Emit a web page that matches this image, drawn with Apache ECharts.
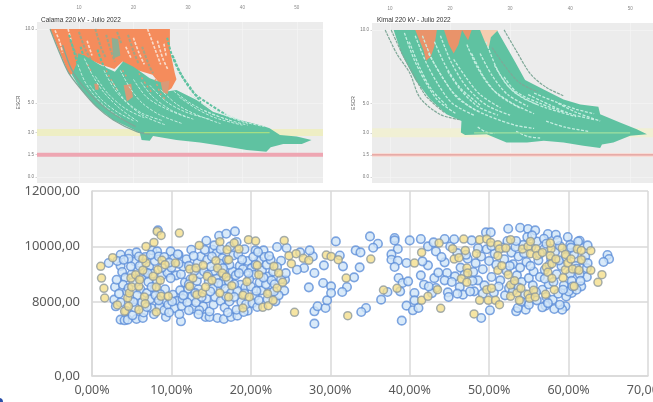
<!DOCTYPE html>
<html><head><meta charset="utf-8">
<script src="https://cdn.jsdelivr.net/npm/echarts@6/dist/echarts.min.js"></script>
<style>html,body{margin:0;padding:0;background:#fff;overflow:hidden}#main{width:653px;height:402px;filter:blur(0.7px)}</style>
</head><body><div id="main"></div>
<script>
const titleCalama = 'Calama 220 kV - Julio 2022';
const titleKimal = 'Kimal 220 kV - Julio 2022';
const escrTicks = [0, 1.5, 3, 5, 10];
const topXTicks = [10, 20, 30, 40, 50];
const bottomYTicks = [5333, 8000, 10000, 12000];

// Calama: filled regions of the point cloud (x, ESCR)
const calamaOrangeArea = [[4.7,10],[26.7,10],[26.7,8.6],[27.6,7],[27.9,6.6],[27,6],[26.1,5.75],[25.3,6.1],[23.5,6.9],[20,7.3],[18,7.8],[16.5,7.3],[14,7.6],[11.5,8],[9.9,7],[8.2,6.9],[6.3,8.6]];
const calamaGreenArea = [[8.7,6.9],[10.2,6],[13.2,4.75],[16.3,3.85],[20,3.2],[21.2,2.95],[21.5,2.5],[23,2.45],[23.6,2.77],[27.9,2.5],[32.2,2.32],[37,2.05],[40.8,1.82],[44.4,1.71],[45.2,2],[47.5,2.23],[50.9,2.23],[52.7,2.5],[50,2.73],[46.9,2.84],[45,3.29],[43.8,3.45],[38.3,3.96],[34.6,4.41],[31.6,5.2],[27.9,5.88],[26.1,5.77],[25.5,6.33],[23,6.67],[20,7.45],[18.1,7.8],[16.6,7.1],[13.9,7.57],[11.4,8.13],[9.9,8.36],[9.6,7.68]];
const calamaOrangePatches = [
  [[18.2,6.2],[19.6,6.3],[19.9,5.4],[18.8,5.1]],
  [[25,6.4],[26.6,6.5],[26.3,5.6],[25.4,5.7]],
  [[12.8,6.3],[13.6,6.3],[13.6,5.9],[13,5.9]]
];
const calamaDullPatch = [[16,9.4],[17.2,9.3],[17.6,8.2],[16.3,8]];
const calamaGreenCurves = [
  [[8.2,9.6],[9,8.6],[10,7.4],[11,6.8]],
  [[10.3,8.8],[11.2,7.8],[12.6,6.8],[13.6,6.2]],
  [[13.4,8.6],[14.4,7.6],[16,6.6],[17.6,5.8]],
  [[26.2,9.4],[27,8.3],[28.6,7],[30.7,5.9],[32.4,5]],
  [[27.2,8.2],[28.8,6.9],[31,5.7],[34,4.9],[37,4.2]]
];
const calamaEdgeCurves = [
  [[4.7,10],[6.2,8.6],[8,7.1],[10.2,6],[13.2,4.75],[16.3,3.85],[20.6,3.06],[23,2.9]],
  [[7,8.9],[8.6,7.3],[10.6,6.2],[13.4,5.1],[16.6,4.2],[20.4,3.4]]
];
const calamaPaleStreaks = [
  [[12,6.2],[14.2,5.2],[17,4.4],[20,3.8]],
  [[13,6.8],[15.4,5.6],[18.6,4.6],[22,4]],
  [[16,6.5],[18.4,5.2],[21.6,4.3],[25.4,3.8]],
  [[20,6.6],[22.4,5.4],[26,4.6],[30,4]],
  [[23,6.2],[26,5.1],[29.5,4.4],[34,3.9]],
  [[27.4,5.8],[30.4,5],[34,4.3],[38,3.8]],
  [[30.4,5.6],[33,4.9],[36.6,4.2],[41,3.6]],
  [[9.8,7.6],[11,6.5],[12.6,5.6],[15,4.7],[18,3.9]],
  [[11,8],[12.6,6.8],[14.6,5.7],[17.6,4.6],[21,3.7]],
  [[14.6,7.2],[16.4,6],[18.8,5],[22,4.1],[26,3.5]],
  [[17.6,7.2],[19.4,6],[21.6,5],[24.8,4.2],[29,3.6]],
  [[21.4,6.4],[23.6,5.4],[27,4.5],[31,3.9]],
  [[25,5.9],[28,4.9],[31.6,4.2],[36,3.6]],
  [[28.4,5.4],[31.6,4.6],[35,4],[40,3.5]],
  [[33,4.5],[37,3.9],[41,3.5]],
  [[36.6,4.3],[40.6,3.7],[44,3.4]]
];
const calamaPaleOrangeStreaks = [
  [[5.6,9.9],[6.4,9.2],[7,8.4]],
  [[8,10],[8.6,9.2]],
  [[22.6,10],[24,8.6],[25,7.6]],
  [[24.4,9.2],[25.4,8],[26.4,7.2]],
  [[20,9.4],[21,8.4],[22,7.6]],
  [[25.6,9],[26,8.2]],
  [[11.5,9.2],[12.4,8.2]],
  [[18.6,8.8],[19.6,8]]
];
const calamaMuddyStreaks = [
  [[10,9.8],[11.2,8.6],[12.6,7.7]],
  [[13,10],[14,8.8],[15,8]],
  [[19,9.6],[20,8.5],[21,7.6]],
  [[17,9.8],[17.8,9]],
  [[8.4,9.2],[9.6,8.2],[10.6,7.5]],
  [[15,9.6],[15.8,8.6],[16.6,7.8]],
  [[21.6,8.8],[22.8,7.6],[23.6,7]]
];
const calamaOrangeSpeckle = [
  [[15,7.2],[16,6.5],[17,5.9]],
  [[21,7],[22.4,6.2],[23.6,5.6]],
  [[18,7.2],[19,6.6]],
  [[11.6,7.6],[12.4,7]],
  [[24,6.6],[25,5.6],[26,5.2]]
];

// Kimal: filled regions of the point cloud (x, ESCR)
const kimalGreenArea = [[10.6,10],[27.8,10],[30.8,7.85],[32.5,6.6],[35.6,5.94],[38.9,5.27],[41.7,4.93],[44.7,4.78],[45,4.26],[48.3,3.7],[51.1,3.25],[52.8,2.91],[50,2.8],[47.2,2.35],[45.3,2.2],[45,1.97],[42.2,2.13],[38.9,2.35],[35.6,2.47],[32.8,2.35],[29.4,2.35],[26.1,2.9],[22.5,2.85],[21.8,3.03],[21.9,3.8],[19.4,4.26],[16.7,5.27],[14.2,6.6],[11.9,8.4]];
const kimalOrangePatches = [
  [[14.2,10],[17.8,10],[17.4,8.9],[16.8,8.2],[16,7.9],[15.6,8.6]],
  [[19,10],[22,10],[21.4,9],[20.6,8.4],[19.8,9]],
  [[22,10],[23.6,10],[23,9.3]]
];
const kimalPaleOrangePatches = [
  [[25,10],[28,10],[26.8,9.5],[26.4,8.7],[25.8,9.2]]
];
const kimalEdgeCurves = [
  [[9.2,10],[11.1,8.4],[13.3,7.06],[15,5.38],[18.3,4.26],[21.7,3.88]],
  [[10.2,10],[12,8.4],[14,6.9],[16,5.5],[19,4.4]],
  [[29,10],[31,8.6],[33.4,7],[36,6.1],[39,5.5]],
  [[27,8.8],[29.4,7.4],[31.6,6.4],[34.6,5.8]]
];
const kimalPaleStreaks = [
  [[12.4,9.8],[14,8],[16,6.4],[18,5.2],[21,4.3]],
  [[14.2,9.6],[16,7.8],[18,6.3],[20.4,5],[24,4.2]],
  [[16.4,8.4],[18.4,7],[20.6,5.7],[24,4.6],[28,3.9]],
  [[18.4,9.6],[20.2,7.8],[22.6,6.2],[26,4.9],[30,4.2]],
  [[20.6,8],[22.6,6.8],[25,5.6],[28.4,4.7]],
  [[22.8,9],[24.6,7.4],[27,6],[30.4,5],[34,4.3]],
  [[25,8.4],[27,6.9],[29.6,5.6],[33,4.8]],
  [[27.4,7.6],[29.4,6.3],[32,5.4],[36,4.7],[41,4.1]],
  [[34,5.7],[37.6,5.1],[41,4.6],[44,4.3]],
  [[24.6,3.4],[26,3.05],[27.4,2.95]],
  [[31,3.1],[33,2.75],[35,2.65]],
  [[28,3.9],[31,3.5],[34,3.3]],
  [[13.2,9.2],[15,7.4],[17,5.9],[19.6,4.8]],
  [[15.4,9.6],[17,8],[19,6.6],[21.4,5.3],[25,4.4]],
  [[17.4,9.2],[19.2,7.6],[21.6,6.1],[25,4.9]],
  [[19.6,7.2],[21.6,6],[24.6,4.8],[28,4.2]],
  [[23.6,8.4],[25.6,6.8],[28,5.6],[31.6,4.7]],
  [[26,9.2],[28,7.2],[30.6,5.8],[34.6,4.9]],
  [[29,6.8],[31,5.8],[35,5],[39,4.4]],
  [[33,5.6],[36.6,4.9],[40,4.3],[44,3.9]],
  [[38,5],[41,4.4],[45,3.8]],
  [[36,3.8],[39,3.4],[43,3.1]]
];

// Lower panel: share (%) and value
const bluePointsX = [3.6,4.1,4.5,5.6,6.4,9.3,11.2,14.3,14.8,15.8,16.6,17.5,18.3,19.6,28,28,28.4,29.4,29.6,27.3,29.1,28,29.2,26.7,25.8,27.8,27.4,26.2,23.3,24.5,23.8,24.3,24.2,23.1,2.8,3,2.9,2.1,3.6,4.7,5.6,7.6,8.2,8.3,9.9,10.9,12.5,14.4,15.2,16,16.9,18,20.6,21.6,
3.6,3.8,4.2,3.9,4.4,4.8,3.6,4.3,5.1,5.4,4.6,5.7,5.2,6.1,5.7,6.3,5.4,6.5,6.7,6.2,7.1,6.9,7.3,7.5,7.2,7.6,7.9,7.4,8.4,8.8,8.2,8.9,8.5,9.1,9.6,9.2,9.5,9.1,10.3,10,10.6,10.2,10.7,10.4,11,11.3,11.4,11.1,11.7,11.2,11.5,11.9,12.2,12.4,12.1,12.6,12,12.7,13.1,13.4,13.2,13.6,13.3,13.7,14.2,14.5,14.1,14.7,14.4,14,14.8,15.3,15.5,15.2,15.6,15.3,15.7,15.4,16.2,16.4,16.1,16.6,16.3,16.8,16.2,16.7,17.1,17.3,17.5,17.2,17.7,17.3,17.8,17.4,18.2,18.4,18.6,18.1,18.7,18.3,18.8,18.2,19.1,19.4,19.3,19,19.6,19.2,20.1,20.4,20,20.5,20.2,20.8,21,21.3,21.1,21.4,21,21.7,22,22.2,21.9,22.4,22.1,22.6,22.8,22.5,23,23.5,23.8,24.4,5,4.6,6.6,7.9,8.6,9.9,10.9,12.8,13,14.9,15.9,17.9,18.9,19.8,20.3,20.9,
3.2,4,4.9,5.9,6,7,7.5,8,8.4,8.8,9.7,10.1,10.8,11.5,12.2,12.9,13.5,13.8,14.6,15,15.1,16.5,16.9,17,17.9,18.5,19.2,19.7,20.6,20.7,21.6,22.3,22.9,23.3,5.2,6.9,7.8,9.7,12.2,13.4,3.4,3.1,
30.7,35,36,35.4,33.2,33.8,31.2,31.6,33.7,33,32.1,31.5,30.1,30.1,36.4,37.2,34.5,33.9,39,39.6,40.4,41.1,38.1,38.1,38.5,37.7,37.7,38.5,39.6,38.1,38.6,39.1,39.8,38.8,40.6,40.6,41.8,41.4,42.3,41.6,40,41.4,42.3,43,43.3,44.4,44.4,44.7,44.4,43.3,44.8,44.9,45.7,46.3,46.7,48.1,49,50.1,49.6,50.2,52.4,53.9,54.9,55.8,57.4,58.4,59.9,61.4,62.4,64.9,65.1,64.4,62.3,61.6,60.4,59.6,59.2,58.2,57.1,56.7,54.6,53.4,53.6,
42.8,43.1,45.1,45.6,46,46.4,46.9,47.3,47.8,47.6,48,48.3,48.6,49,49.2,49.4,49.7,50,50.3,50.7,50.9,50.6,51.4,51.7,51.9,52.2,52,52.5,52.8,53,53.3,53.5,53.7,53.9,54.1,54.3,54.5,54.7,55,55.3,55.6,55.5,56,56.2,56.4,56.7,56.9,57,57.2,57.5,57.8,58,58.3,58.5,58.7,58.9,59.1,59.4,59.7,59.9,60.2,60.4,60.7,60.9,61.2,61.4,61.8,62.1,62.3,61,60,58.9,57.4,56,55,54,53,52.3,53.4,54.8,56.9,58.6,60.2,
42.4,43.6,44,45.3,46,47.1,47.9,48.6,49.2,50.3,51.2,52.6,53.1,53.7,54.4,55.2,55.9,56.4,57,57.6,58.1,58.8,59.3,59.7,60.5,61,61.5,62.4,60.3,57.2,55.4];
const bluePointsY = [7364,7340,7364,7388,7424,7460,7304,7460,7460,7424,7388,7460,7508,7688,7220,7664,7844,7784,8060,8528,8684,9044,9320,9224,9164,9644,9860,9788,9980,9944,9488,8804,8408,8024,8084,7844,8540,9404,9704,9740,9788,9860,9824,10580,9824,9704,9884,10208,9884,10388,10460,10544,9860,9860,
9300,9080,8880,8620,8380,8120,7980,7680,7520,9460,9560,9120,8720,8460,8240,7980,7800,7620,9620,8900,8720,8320,8100,7780,9280,9020,9480,9700,9640,8960,8740,8020,7860,7700,7900,8460,9060,9620,9560,9240,8960,8260,8040,7780,7560,7860,8120,8420,8700,9000,9280,9540,9300,8820,8480,8200,7980,7760,7980,8460,8760,9000,9420,9640,9880,9520,9100,8740,8120,7840,7660,7900,8180,8480,8840,9120,9760,10040,9900,9580,9380,9000,8640,8480,8040,7800,7620,8020,8320,8760,9100,9340,9680,10000,10160,9720,9300,8960,8620,8400,8000,7720,7640,7920,8520,9180,9480,9900,9220,8980,8560,8200,7960,7820,8060,8420,8700,9140,9480,9620,9340,8920,8640,8340,8100,8780,9100,9520,8640,8240,8820,9040,9000,8500,9100,8500,8280,8860,9380,9660,8320,8380,8680,8640,9520,8820,9620,9800,
9480,9520,9280,9640,9300,9040,8540,8240,8060,9240,9420,8020,9720,8240,8640,9120,7700,8180,8980,9280,9640,9220,8200,9520,8180,9040,8300,9040,9340,8400,8880,9660,8380,9260,8000,7820,7560,7620,7700,7560,8300,8800,
10184,10364,10100,9956,9860,9788,9676,9284,9248,8888,8540,8360,8564,8324,8084,8360,7784,7640,7328,7868,7700,7784,10304,10220,9908,9716,9524,9488,9404,9260,8864,8684,8744,8384,8324,8060,8624,8960,9320,9464,10220,10268,10004,10148,9824,10268,9428,9044,8780,8504,8348,8180,8924,8540,8264,8384,7424,7700,10508,10508,10640,10676,10628,10580,10448,10424,10340,10208,10040,9692,9548,9440,8900,8564,8324,7844,7724,7748,7868,7808,7724,7664,7784,
8320,8860,10000,10260,9760,9240,8980,9560,10220,8380,9080,9400,8780,9640,9180,8600,9900,9480,8900,9740,9340,8340,8780,9960,9540,9120,8240,8500,9780,9360,9980,8960,9640,9240,8720,10060,8280,9440,8860,9980,9100,8600,10180,9500,8900,8440,9900,9160,8180,8640,9560,8080,9800,9000,8300,10020,9300,8600,8200,9860,9020,8760,9720,9300,10180,9000,9500,9640,9220,8440,8380,7900,7960,8060,7900,8020,8400,10200,10200,10340,10280,10220,10060,
8560,9060,9620,8720,8300,9700,8760,9940,8300,10020,8560,9300,8640,8520,9760,9300,8360,9740,8840,9340,8720,9500,8440,9620,8560,9200,8760,9400,9960,10100,10400];
const yellowPointsX = [1.1,1.2,1.5,1.6,2.6,3.2,4.1,4.5,4.7,4.9,5,5.5,5.9,6,4.6,5.9,6.6,6.7,6.8,6.4,6.4,6.8,7.8,7.7,8.1,8.3,8.6,8.8,8.7,9.2,9.6,8.1,8.2,8.7,10.5,11,12.3,12.3,13.1,12.7,13.2,13.5,14,13.9,14.3,14.5,15.1,15.6,15.8,16.1,16.1,16.4,16.9,17.6,17.2,17.2,17,17.9,18.5,19,19.8,19.5,19,19.7,20.6,20.8,21,22.1,21.5,22.2,22.8,22.9,23.5,23.3,24,24.2,24.8,25.1,25.7,26.6,27.3,25.5,29.5,
30.1,31,32,32.2,35.1,36.7,38.4,40.6,41.5,41.5,42.3,43.5,43.9,43.7,45.4,45.6,46.2,46.8,47,47.2,47.3,46.5,47.2,48.1,48.4,48.8,48.8,49.7,49.7,49.9,50.3,50.8,51.3,50.2,51.1,51.3,51.1,51.1,51.6,52.1,52.7,52.4,52.7,52.7,53.2,53.5,53.8,54,54.2,54.9,55.2,55.2,55.9,56,56.7,54.9,55.1,55.6,55.8,57.1,57.2,57.4,57.8,57.7,57.7,57.9,57.9,58.2,58.4,59.2,59.3,59.6,59.6,59.9,60.3,60.5,60.7,61.3,61.1,61.6,61.6,62.8,62.8,63.7,64.2];
const yellowPointsY = [9284,8864,8492,8144,9596,7892,7664,8144,8324,8864,8540,8984,8564,8804,7844,7724,8180,7940,9404,9560,9140,10004,10148,8924,8540,9164,8780,9500,8204,9344,8204,7640,10544,10400,9404,10484,8564,9188,9224,8864,8264,10040,9320,8324,8540,8924,8780,9488,9224,10172,8324,9044,8900,8588,8180,9524,9884,10124,9908,8240,8180,8732,7784,10244,10196,9320,8984,8300,7808,7868,8060,9284,9044,8504,8708,10220,9668,9380,9740,9572,9500,7628,9692,
9644,9524,8864,7508,9548,8432,8492,9404,9788,8060,8204,8444,7772,10124,9920,9548,9596,10268,9860,9224,9044,8840,8708,7568,9740,10244,8060,8444,10268,8060,8492,8060,7904,10148,10064,9908,9668,9140,9308,9944,10244,8984,8612,8204,8768,8324,8060,8492,9908,10004,10184,9740,9920,9668,9788,8276,8132,8420,8180,8276,9260,9068,9920,10124,9668,8852,9380,8444,9548,9944,8876,9716,9164,9404,9548,9188,8564,9140,9908,9860,9524,9848,9140,8708,8984];

const GREEN='#5fc2a1', ORANGE='#f58c5c', PALE='#c4eee0', PALEOR='#f9dccb', EDGE='#7fa898';
const DASH=[3,1.5];
function polygon(points,color,g,z){
  return {type:'custom',xAxisIndex:g,yAxisIndex:g,z:z,silent:true,clip:true,data:[0],
    renderItem:(p,api)=>({type:'polygon',shape:{points:points.map(q=>api.coord(q))},style:{fill:color}})};
}
function curve(points,color,w,g,z,dash){
  return {type:'line',xAxisIndex:g,yAxisIndex:g,z:z,silent:true,showSymbol:false,smooth:0.3,data:points,
    lineStyle:{color:color,width:w,type:dash||'solid'}};
}
function hband(y,x0,x1,color,w,g,z){ return {type:'line',xAxisIndex:g,yAxisIndex:g,z:z,silent:true,showSymbol:false,data:[[x0,y],[x1,y]],lineStyle:{color:color,width:w}}; }
function pairs(xs,ys){return xs.map((x,i)=>[x,ys[i]]);}

const series=[];
// Calama
series.push(hband(3,2.3,54.8,'#eeeec4',7,0,1));
series.push(polygon(calamaOrangeArea,ORANGE,0,2));
calamaPaleOrangeStreaks.forEach(c=>series.push(curve(c,PALEOR,1.6,0,3,DASH)));
calamaMuddyStreaks.forEach(c=>series.push(curve(c,'#a3a585',2,0,3,DASH)));
series.push(polygon(calamaDullPatch,'#8fae92',0,3));
series.push(polygon(calamaGreenArea,GREEN,0,4));
calamaGreenCurves.forEach(c=>series.push(curve(c,GREEN,2,0,4,DASH)));
calamaOrangePatches.forEach(c=>series.push(polygon(c,'#d99a78',0,5)));
calamaOrangeSpeckle.forEach(c=>series.push(curve(c,'#d99a78',1.5,0,5,[2,3])));
calamaPaleStreaks.forEach(c=>series.push(curve(c,PALE,1,0,5,DASH)));
calamaEdgeCurves.forEach(c=>series.push(curve(c,EDGE,1.3,0,5)));
series.push(hband(3,22,45,'#a4de84',1.2,0,6));
series.push(hband(1.5,2.3,54.8,'#eea6b2',4,0,6));
// Kimal
series.push(hband(3,7,53.8,'#f1f0d4',9,1,1));
series.push(hband(1.5,7,53.8,'#f8dcd6',4,1,1));
series.push(polygon(kimalGreenArea,GREEN,1,4));
kimalOrangePatches.forEach(c=>series.push(polygon(c,'#e9936a',1,5)));
kimalPaleOrangePatches.forEach(c=>series.push(polygon(c,'#f6cdb0',1,5)));
kimalPaleStreaks.forEach(c=>series.push(curve(c,PALE,1.3,1,5,DASH)));
kimalEdgeCurves.forEach(c=>series.push(curve(c,EDGE,1.2,1,5,[3,1])));
series.push(hband(3,24,50,'#9fe0a0',1.2,1,6));
series.push(hband(1.5,7,53.8,'#dc8a88',1,1,6));
// Lower panel
series.push({type:'scatter',xAxisIndex:2,yAxisIndex:2,z:3,symbolSize:8.5,data:pairs(bluePointsX,bluePointsY),
  itemStyle:{color:'#cfe5f8',borderColor:'#5e8fd8',borderWidth:1.6}});
series.push({type:'scatter',xAxisIndex:2,yAxisIndex:2,z:4,symbolSize:8,data:pairs(yellowPointsX,yellowPointsY),
  itemStyle:{color:'#f4de8c',borderColor:'#8e9a9c',borderWidth:1.5}});

function topX(idx,min,max){return {gridIndex:idx,type:'value',position:'top',min:min,max:max,
  axisLine:{show:false},axisTick:{show:false,customValues:topXTicks},
  axisLabel:{customValues:topXTicks,fontSize:4.5,color:'#888',margin:12},
  splitLine:{show:true,lineStyle:{color:'#f4f4f4',width:0.8}}};}
function topY(idx){return {gridIndex:idx,type:'value',min:-0.41,max:10.47,name:'ESCR',nameLocation:'middle',nameGap:14,
  nameTextStyle:{fontSize:5,color:'#555'},
  axisLine:{show:false},axisTick:{customValues:escrTicks,length:1.5,lineStyle:{color:'#aaa',width:0.5}},
  axisLabel:{customValues:escrTicks,fontSize:4.5,color:'#777',margin:3,formatter:v=>v.toFixed(1)},
  splitLine:{show:true,lineStyle:{color:'#f4f4f4',width:0.8}}};}

const option={
  animation:false,backgroundColor:'#fff',
  textStyle:{fontFamily:'"Liberation Sans",sans-serif'},
  title:[
    {text:titleCalama,left:36,top:12,textStyle:{fontSize:6.5,fontWeight:'normal',color:'#333'}},
    {text:titleKimal,left:372,top:12,textStyle:{fontSize:6.5,fontWeight:'normal',color:'#333'}}
  ],
  grid:[
    {left:37,top:22,width:286,height:161,show:true,backgroundColor:'#ececec',borderWidth:0,outerBoundsMode:'none'},
    {left:372,top:23,width:281,height:160,show:true,backgroundColor:'#ececec',borderWidth:0,outerBoundsMode:'none'},
    {left:92,top:191,width:556,height:185,show:false,outerBoundsMode:'none'}
  ],
  xAxis:[topX(0,2.3,54.8),topX(1,7,53.8),
    {gridIndex:2,type:'value',min:0,max:70,interval:10,
     axisLine:{show:true,lineStyle:{color:'#d9d9d9',width:1.5}},axisTick:{show:false},
     axisLabel:{fontFamily:'"Noto Sans",sans-serif',fontSize:12.5,color:'#595959',margin:8,hideOverlap:false,showMaxLabel:true,
       formatter:v=>v.toFixed(2).replace('.',',')+'%'},
     splitLine:{show:true,lineStyle:{color:'#d9d9d9',width:1.5}}}],
  yAxis:[topY(0),topY(1),
    {gridIndex:2,type:'value',min:5333,max:12000,
     axisLine:{show:true,lineStyle:{color:'#d9d9d9',width:1.5}},
     axisTick:{show:false,customValues:bottomYTicks},
     axisLabel:{customValues:bottomYTicks,fontFamily:'"Noto Sans",sans-serif',fontSize:13,color:'#595959',margin:12,
       formatter:v=>v<6000?'0,00':v.toFixed(2).replace('.',',')},
     splitLine:{show:true,lineStyle:{color:'#d9d9d9',width:1.5}}}],
  graphic:[{type:'circle',shape:{cx:-1,cy:402,r:4},style:{fill:'#2a4fa8'}}],
  series:series
};
echarts.init(document.getElementById('main')).setOption(option);
</script></body></html>
